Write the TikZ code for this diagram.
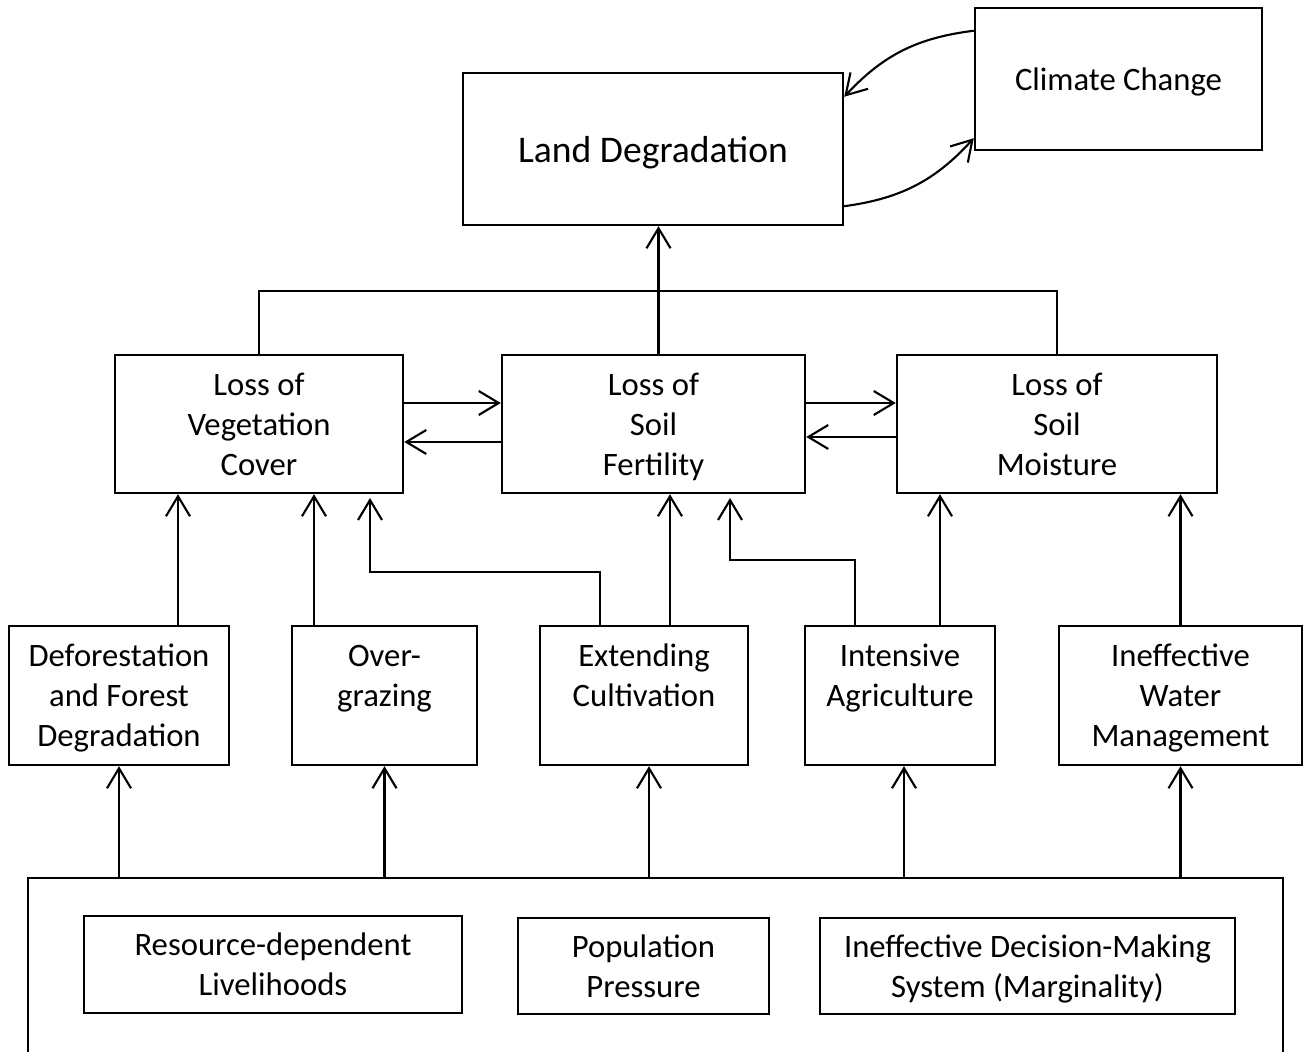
\documentclass[tikz,border=0pt]{standalone}
\usepackage{fontspec}
\setmainfont{Carlito}
\usepackage{tikz}
\usetikzlibrary{arrows.meta,positioning}
\newcommand{\boxfont}{\fontsize{9.3}{11.4}\selectfont}
\newcommand{\bigboxfont}{\fontsize{10.7}{13}\selectfont}

\begin{document}
\begin{tikzpicture}[
        box/.style={rectangle, draw=black, line width=0.7pt, align=center, inner sep=0pt, text depth=0pt, font=\boxfont},
        arrow/.style={-{Straight Barb[length=2mm,width=2.4mm]}, line width=0.6pt},
        link/.style={line width=0.6pt}
    ]
    \useasboundingbox (0,0) rectangle (13.05,-10.52);
    \node[box, minimum width=3.8cm, minimum height=1.52cm, font=\bigboxfont] (ld) at (6.53,-1.49) {Land Degradation};
    \node[box, minimum width=2.87cm, minimum height=1.42cm] (cc) at (11.185,-0.79) {Climate Change};
    \node[box, minimum width=2.88cm, minimum height=1.38cm] (veg) at (2.59,-4.24) {Loss of\\Vegetation\\Cover};
    \node[box, minimum width=3.03cm, minimum height=1.38cm] (fert) at (6.535,-4.24) {Loss of\\Soil\\Fertility};
    \node[box, minimum width=3.2cm, minimum height=1.38cm] (moist) at (10.57,-4.24) {Loss of\\Soil\\Moisture};
    \node[box, minimum width=2.2cm, minimum height=1.39cm] (defor) at (1.19,-6.955) {Deforestation\\and Forest\\Degradation};
    \node[box, minimum width=1.85cm, minimum height=1.39cm] (graz) at (3.845,-6.955) {Over-\\grazing\\\strut};
    \node[box, minimum width=2.08cm, minimum height=1.39cm] (ext) at (6.44,-6.955) {Extending\\Cultivation\\\strut};
    \node[box, minimum width=1.9cm, minimum height=1.39cm] (intens) at (9.0,-6.955) {Intensive\\Agriculture\\\strut};
    \node[box, minimum width=2.43cm, minimum height=1.39cm] (water) at (11.805,-6.955) {Ineffective\\Water\\Management};
    \node[box, minimum width=12.55cm, minimum height=2.2cm, anchor=north] (base) at (6.555,-8.77) {};
    \node[box, minimum width=3.78cm, minimum height=0.97cm] (rdl) at (2.73,-9.645) {Resource-dependent\\Livelihoods};
    \node[box, minimum width=2.51cm, minimum height=0.96cm] (pop) at (6.435,-9.66) {Population\\Pressure};
    \node[box, minimum width=4.15cm, minimum height=0.96cm] (idm) at (10.275,-9.66) {Ineffective Decision-Making\\System (Marginality)};

    \draw[arrow] ([yshift=-2.4mm]cc.north west) to[bend right=20] ([yshift=-2.5mm]ld.north east);
    \draw[arrow] ([yshift=2mm]ld.south east) to[bend right=20] ([yshift=1.3mm]cc.south west);

    \coordinate (join) at ([xshift=0.5mm, yshift=6.3mm]fert.north);
    \draw[link] (veg.north) |- (join) -| (moist.north);
    \draw[arrow] ([xshift=0.5mm]fert.north) -- ([xshift=0.5mm]fert.north |- ld.south);

    \draw[arrow] ([yshift=2.1mm]veg.east) -- ([yshift=2.1mm]veg.east -| fert.west);
    \draw[arrow] ([yshift=-1.8mm]fert.west) -- ([yshift=-1.8mm]fert.west -| veg.east);
    \draw[arrow] ([yshift=2.1mm]fert.east) -- ([yshift=2.1mm]fert.east -| moist.west);
    \draw[arrow] ([yshift=-1.3mm]moist.west) -- ([yshift=-1.3mm]moist.west -| fert.east);

    \coordinate (d1) at ([xshift=5.9mm]defor.north);
    \coordinate (g1) at ([xshift=-7.05mm]graz.north);
    \coordinate (e1) at ([xshift=-4.4mm]ext.north);
    \coordinate (e2) at ([xshift=2.6mm]ext.north);
    \coordinate (i1) at ([xshift=-4.5mm]intens.north);
    \coordinate (i2) at ([xshift=4mm]intens.north);
    \coordinate (vx) at (3.7,-4.98);
    \coordinate (fx) at (7.3,-4.98);
    \draw[arrow] (d1) -- (d1 |- veg.south);
    \draw[arrow] (g1) -- (g1 |- veg.south);
    \draw[arrow] (e1) |- (3.7,-5.72) -- (vx);
    \draw[arrow] (e2) -- (e2 |- fert.south);
    \draw[arrow] (i1) |- (7.3,-5.6) -- (fx);
    \draw[arrow] (i2) -- (i2 |- moist.south);
    \draw[arrow] (water.north) -- (water.north |- moist.south);

    \draw[arrow] (defor.south |- base.north) -- (defor.south);
    \draw[arrow] (graz.south |- base.north) -- (graz.south);
    \draw[arrow] ([xshift=0.5mm]ext.south |- base.north) -- ([xshift=0.5mm]ext.south);
    \draw[arrow] ([xshift=0.4mm]intens.south |- base.north) -- ([xshift=0.4mm]intens.south);
    \draw[arrow] (water.south |- base.north) -- (water.south);
\end{tikzpicture}
\end{document}
